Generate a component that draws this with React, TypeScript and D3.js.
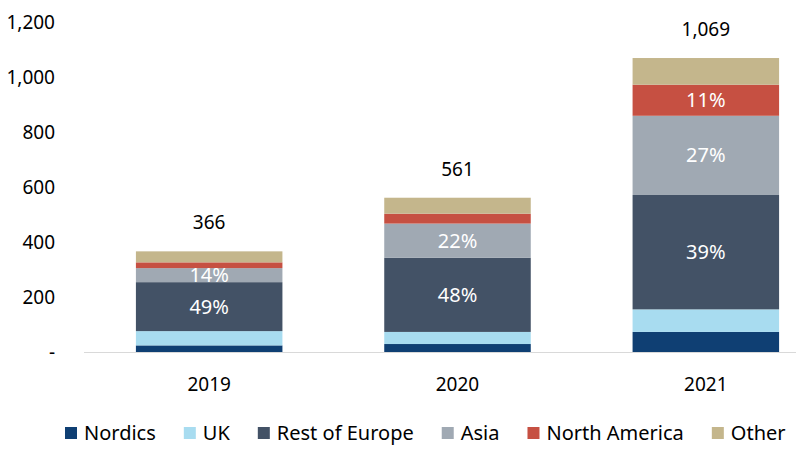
import { useEffect, useRef } from "react";
import * as d3 from "d3";

const years = ["2019", "2020", "2021"];
const seriesNames = ["Nordics", "UK", "Rest of Europe", "Asia", "North America", "Other"];
const seriesColors = ["#0f3f73", "#a8dcf0", "#435266", "#a0a9b3", "#c65042", "#c4b68c"];

// values per series, one entry per year
const nordics = [24, 29, 73];
const uk = [52, 44, 82];
const restOfEurope = [178, 270, 416];
const asia = [51, 124, 288];
const northAmerica = [21, 36, 113];
const other = [40, 58, 97];

const totals = [366, 561, 1069];
// share labels shown inside segments ("" = none)
const shareLabels = [
  ["", "", ""],
  ["", "", ""],
  ["49%", "48%", "39%"],
  ["14%", "22%", "27%"],
  ["", "", "11%"],
  ["", "", ""],
];
const yTicks = [0, 200, 400, 600, 800, 1000, 1200];

const FONT = "'Noto Sans', 'Open Sans', sans-serif";

export default function App() {
  const svgRef = useRef<SVGSVGElement>(null);
  const width = 796;
  const height = 460;

  useEffect(() => {
    if (!svgRef.current) return;
    const svg = d3.select(svgRef.current);
    svg.selectAll("*").remove();

    const allSeries = [nordics, uk, restOfEurope, asia, northAmerica, other];
    const rows = years.map((yr, i) => {
      const row: Record<string, number | string> = { year: yr };
      seriesNames.forEach((s, k) => (row[s] = allSeries[k][i]));
      return row;
    });

    const stack = d3.stack<Record<string, number | string>>().keys(seriesNames)
      .value((d, key) => d[key] as number);
    const stacked = stack(rows);

    const x = d3.scaleBand().domain(years).range([85, 830])
      .paddingInner(0.41).paddingOuter(0.205);
    const y = d3.scaleLinear().domain([0, 1200]).range([352, 22]);

    // y tick labels
    const fmt = d3.format(",");
    svg.append("g")
      .selectAll("text")
      .data(yTicks)
      .enter()
      .append("text")
      .attr("x", 55)
      .attr("y", (d) => y(d))
      .attr("dy", "0.35em")
      .attr("text-anchor", "end")
      .attr("font-family", FONT)
      .attr("font-size", 19)
      .attr("fill", "#000")
      .text((d) => (d === 0 ? "-" : fmt(d)));

    // bars
    const layers = svg.append("g")
      .selectAll("g")
      .data(stacked)
      .enter()
      .append("g")
      .attr("fill", (_, i) => seriesColors[i]);

    layers.selectAll("rect")
      .data((d) => d)
      .enter()
      .append("rect")
      .attr("x", (d) => x(d.data.year as string)!)
      .attr("width", x.bandwidth())
      .attr("y", (d) => y(d[1]))
      .attr("height", (d) => y(d[0]) - y(d[1]));

    // share labels
    stacked.forEach((layer, k) => {
      layer.forEach((d, i) => {
        const lbl = shareLabels[k][i];
        if (!lbl) return;
        svg.append("text")
          .attr("x", x(years[i])! + x.bandwidth() / 2)
          .attr("y", (y(d[0]) + y(d[1])) / 2)
          .attr("dy", "0.35em")
          .attr("text-anchor", "middle")
          .attr("font-family", FONT)
          .attr("font-size", 20)
          .attr("fill", "#fff")
          .text(lbl);
      });
    });

    // totals
    svg.append("g")
      .selectAll("text")
      .data(totals)
      .enter()
      .append("text")
      .attr("x", (_, i) => x(years[i])! + x.bandwidth() / 2)
      .attr("y", (d) => y(d) - 22)
      .attr("text-anchor", "middle")
      .attr("font-family", FONT)
      .attr("font-size", 19)
      .attr("fill", "#000")
      .text((d) => fmt(d));

    // baseline
    svg.append("line")
      .attr("x1", 84)
      .attr("x2", 796)
      .attr("y1", y(0) + 0.5)
      .attr("y2", y(0) + 0.5)
      .attr("stroke", "#d9d9d9")
      .attr("stroke-width", 1.2);

    // x labels
    svg.append("g")
      .selectAll("text")
      .data(years)
      .enter()
      .append("text")
      .attr("x", (d) => x(d)! + x.bandwidth() / 2)
      .attr("y", 391)
      .attr("text-anchor", "middle")
      .attr("font-family", FONT)
      .attr("font-size", 19)
      .attr("fill", "#000")
      .text((d) => d);

    // legend
    const legend = svg.append("g");
    let cx = 65;
    seriesNames.forEach((name, i) => {
      legend.append("rect")
        .attr("x", cx)
        .attr("y", 427)
        .attr("width", 12)
        .attr("height", 12)
        .attr("fill", seriesColors[i]);
      const t = legend.append("text")
        .attr("x", cx + 19)
        .attr("y", 433)
        .attr("dy", "0.35em")
        .attr("font-family", FONT)
        .attr("font-size", 20)
        .attr("fill", "#000")
        .text(name);
      const w = (t.node() as SVGTextElement).getComputedTextLength();
      cx += 19 + w + 28;
    });
  }, []);

  return (
    <svg
      ref={svgRef}
      width={width}
      height={height}
      style={{ position: "absolute", left: 0, top: 0, background: "#fff" }}
    />
  );
}
